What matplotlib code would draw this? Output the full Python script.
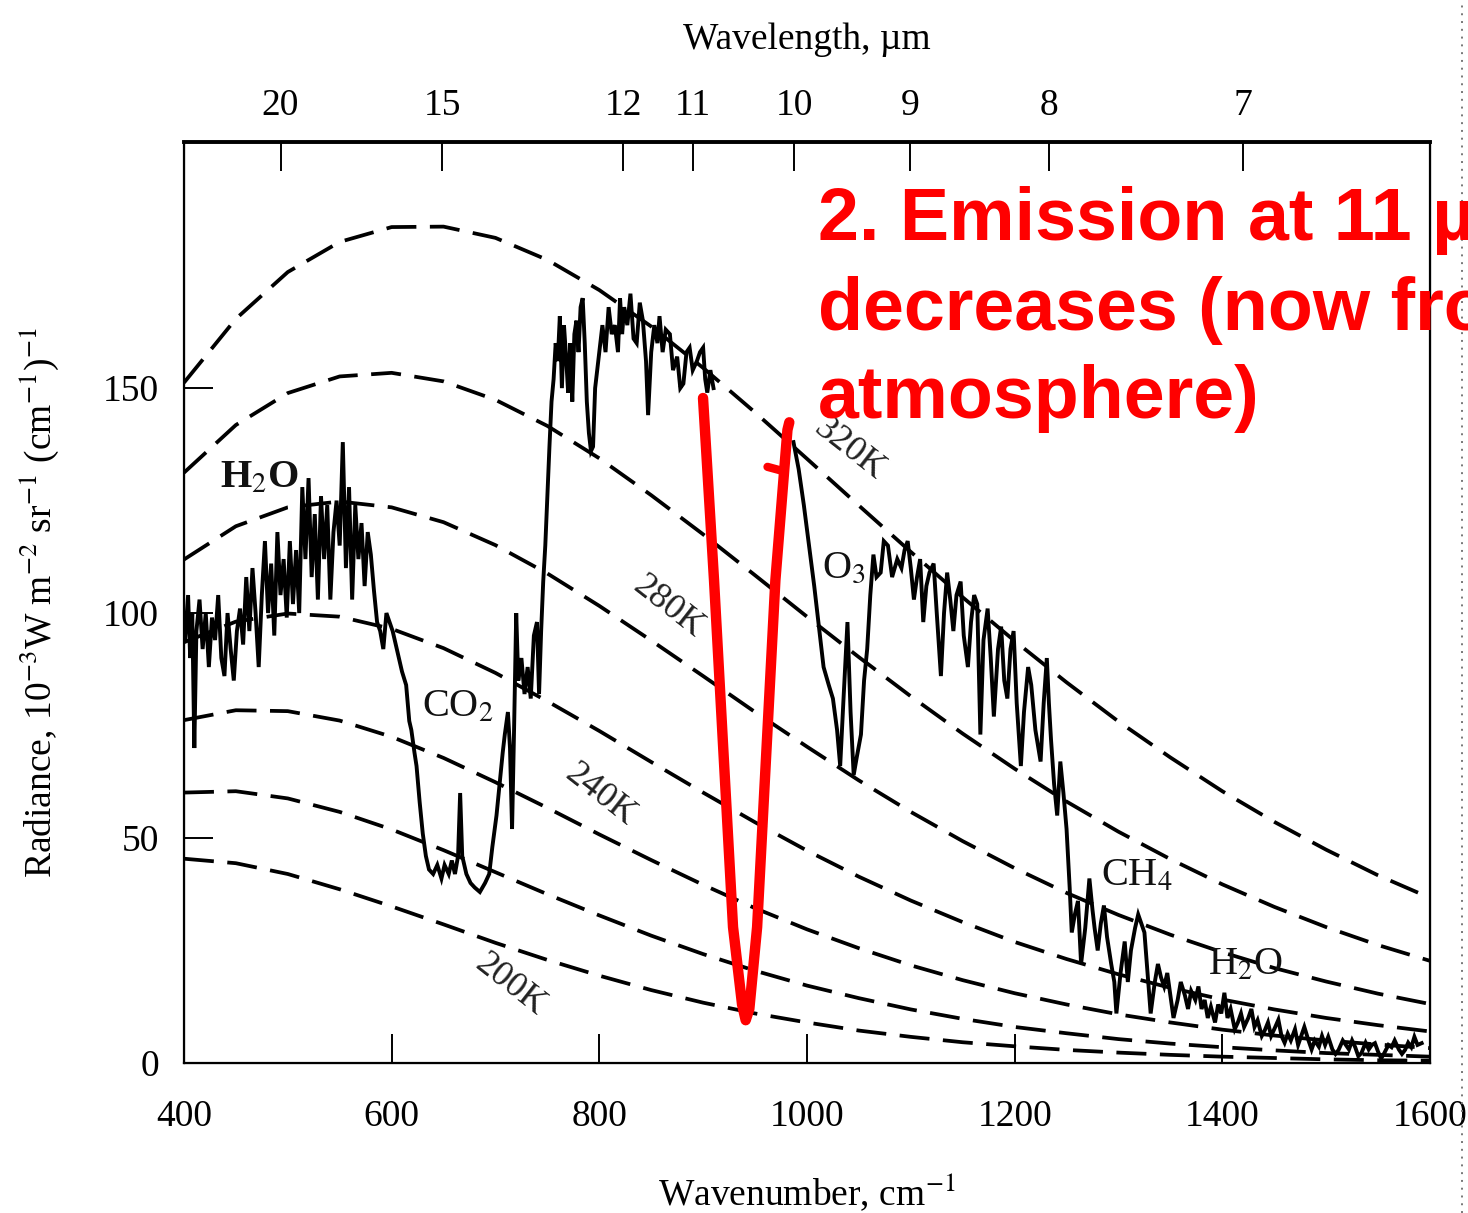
import matplotlib
matplotlib.use("Agg")
import matplotlib.pyplot as plt
from matplotlib.lines import Line2D
import numpy as np

plt.rcParams['font.family'] = ['Liberation Serif', 'DejaVu Serif']
plt.rcParams['mathtext.fontset'] = 'stix'

# blackbody curves (10^-3 W m-2 sr-1 (cm-1)-1)
wn_grid = [400, 450, 500, 550, 600, 650, 700, 750, 800, 850, 900, 950, 1000,
           1050, 1100, 1150, 1200, 1250, 1300, 1350, 1400, 1450, 1500, 1550, 1600]
b320 = [151.2, 165.4, 175.8, 182.5, 185.8, 185.9, 183.4, 178.5, 171.8, 163.7, 154.5, 144.6, 134.3,
        123.9, 113.6, 103.5, 93.8, 84.6, 75.9, 67.9, 60.4, 53.6, 47.4, 41.7, 36.7]
b300 = [131.2, 141.8, 148.9, 152.6, 153.4, 151.5, 147.4, 141.6, 134.4, 126.2, 117.5, 108.4, 99.2,
        90.2, 81.5, 73.2, 65.4, 58.1, 51.4, 45.3, 39.7, 34.7, 30.2, 26.2, 22.7]
b280 = [111.9, 119.3, 123.5, 124.8, 123.5, 120.2, 115.1, 108.8, 101.6, 93.9, 86.0, 78.0, 70.3,
        62.8, 55.8, 49.3, 43.3, 37.8, 32.9, 28.5, 24.6, 21.1, 18.1, 15.4, 13.1]
b260 = [93.5, 98.1, 99.9, 99.2, 96.5, 92.2, 86.7, 80.4, 73.8, 66.9, 60.1, 53.5, 47.2,
        41.4, 36.1, 31.3, 26.9, 23.1, 19.7, 16.7, 14.1, 11.9, 10.0, 8.4, 7.0]
b240 = [76.2, 78.4, 78.2, 76.1, 72.5, 67.8, 62.4, 56.7, 50.8, 45.1, 39.6, 34.4, 29.7,
        25.5, 21.7, 18.4, 15.5, 13.0, 10.8, 9.0, 7.4, 6.1, 5.0, 4.1, 3.3]
b220 = [60.1, 60.4, 58.8, 55.8, 51.9, 47.3, 42.4, 37.5, 32.8, 28.3, 24.2, 20.5, 17.2,
        14.4, 11.9, 9.8, 8.0, 6.6, 5.3, 4.3, 3.5, 2.8, 2.2, 1.8, 1.4]
b200 = [45.4, 44.4, 42.0, 38.6, 34.8, 30.8, 26.7, 22.9, 19.4, 16.2, 13.4, 11.0, 9.0,
        7.2, 5.8, 4.6, 3.7, 2.9, 2.3, 1.8, 1.4, 1.1, 0.8, 0.6, 0.5]
curves = [b320, b300, b280, b260, b240, b220, b200]

# measured spectrum, part below 11 um window
spec1_wn = [401, 404, 406, 408, 410, 412, 415, 418, 421, 424, 427, 430, 433, 436, 439, 442, 445, 448,
            451, 454, 457, 460, 463, 466, 469, 472, 475, 478, 481, 484, 487, 490, 493, 496, 499,
            502, 505, 508, 511, 514, 517, 520, 523, 526, 529, 532, 535, 538, 541, 544, 547, 550,
            553, 556, 559, 562, 565, 568, 571, 574, 577, 580, 583, 586, 589, 592, 595, 598, 601,
            605, 610, 614, 617, 619, 622, 624, 627, 630, 633, 636, 640, 644, 648, 651, 655, 658,
            661, 664, 666, 668, 672, 676, 680, 685, 690, 694, 697, 701, 704, 707, 709, 712, 714,
            716, 718, 720, 722, 725, 728, 731, 734, 737, 740, 742, 744, 746, 748, 750, 752, 754,
            756, 758, 760, 762, 764, 766, 768, 770, 772, 774, 776, 778, 780, 782, 784, 786, 788,
            790, 792, 794, 796, 798, 801, 803, 806, 809, 812, 815, 818, 820, 822, 824, 827, 830,
            833, 836, 839, 842, 845, 847, 850, 853, 856, 858, 861, 864, 868, 871, 875, 878, 881,
            884, 887, 890, 894, 897, 900, 902, 904, 907, 910]
spec1_rad = [94, 104, 90, 100, 70, 96, 103, 92, 100, 88, 99, 94, 104, 90, 86, 100, 92, 85,
             96, 101, 93, 108, 96, 110, 100, 88, 104, 116, 100, 111, 95, 118, 104, 112, 99,
             116, 102, 114, 100, 128, 112, 130, 108, 122, 103, 126, 112, 124, 103, 118, 125, 115,
             138, 110, 128, 103, 124, 112, 120, 106, 118, 113, 105, 98, 96, 92, 100, 98, 96,
             92, 87, 84, 76, 74, 69, 66, 58, 51, 46, 43, 42, 44, 41, 44, 42, 45,
             42, 46, 60, 46, 42, 40, 39, 38, 40, 42, 48, 55, 62, 69, 73, 78, 70,
             52, 75, 100, 85, 90, 82, 88, 81, 95, 98, 82, 96, 107, 115, 126, 137, 147,
             152, 160, 156, 166, 150, 164, 157, 149, 160, 147, 162, 165, 158, 168, 170, 160, 147,
             140, 136, 137, 150, 154, 160, 164, 158, 168, 162, 164, 158, 170, 162, 168, 164, 171,
             161, 160, 169, 165, 156, 144, 158, 164, 160, 166, 158, 163, 162, 154, 157, 150, 151,
             158, 159, 154, 156, 158, 159, 152, 149, 154, 150]

# measured spectrum, part above 10 um
spec2_wn = [987, 992, 997, 1002, 1007, 1012, 1016, 1021, 1025, 1029, 1032, 1035, 1039, 1042, 1045,
            1048, 1052, 1055, 1058, 1061, 1064, 1067, 1071, 1074, 1078, 1082, 1087, 1091, 1094,
            1097, 1100, 1103, 1106, 1109, 1112, 1115, 1118, 1122, 1125, 1129, 1132, 1135, 1138,
            1141, 1144, 1148, 1151, 1155, 1158, 1161, 1164, 1167, 1170, 1174, 1177, 1180, 1184,
            1187, 1190, 1193, 1196, 1199, 1202, 1206, 1209, 1213, 1216, 1220, 1225, 1228, 1231,
            1233, 1235, 1238, 1241, 1244, 1247, 1250, 1253, 1255, 1258, 1261, 1264, 1268, 1272,
            1275, 1277, 1280, 1283, 1286, 1289, 1293, 1296, 1298, 1302, 1306, 1309, 1312, 1316,
            1319, 1322, 1325, 1328, 1331, 1335, 1338, 1341, 1344, 1347, 1350, 1353, 1357, 1360,
            1364, 1367, 1370, 1374, 1377, 1380, 1383, 1386, 1389, 1393, 1396, 1399, 1402, 1405,
            1408, 1412, 1415, 1418, 1421, 1425, 1428, 1431, 1434, 1438, 1441, 1444, 1447, 1451,
            1454, 1457, 1460, 1463, 1466, 1470, 1473, 1476, 1479, 1483, 1486, 1489, 1493, 1496,
            1499, 1502, 1506, 1509, 1512, 1516, 1519, 1522, 1525, 1528, 1531, 1534, 1538, 1541,
            1544, 1547, 1550, 1553, 1556, 1560, 1563, 1566, 1570, 1573, 1576, 1579, 1582, 1585,
            1588, 1592]
spec2_rad = [138, 132, 124, 115, 106, 96, 88, 84, 81, 74, 66, 80, 98, 78, 64,
             68, 73, 85, 92, 104, 113, 108, 109, 116, 115, 108, 112, 110, 114,
             116, 110, 103, 108, 112, 98, 106, 109, 111, 100, 86, 100, 109, 103,
             96, 104, 107, 95, 88, 98, 104, 102, 73, 94, 101, 90, 77, 92,
             97, 85, 81, 92, 96, 80, 66, 78, 88, 84, 74, 67, 80, 90,
             80, 72, 62, 55, 67, 60, 52, 39, 29, 33, 36, 22, 30, 41,
             34, 30, 25, 31, 35, 28, 22, 18, 11, 20, 27, 18, 25, 30,
             33, 31, 29, 20, 11, 18, 22, 19, 17, 20, 15, 10, 14, 18,
             15, 12, 16, 14, 17, 12, 14, 10, 12.5, 9, 13, 11, 15.6, 10,
             12, 7.5, 9, 11, 8, 10, 12, 8, 9.5, 6, 7.3, 9, 6, 8,
             9.6, 6, 4.5, 6.5, 5, 7.5, 4, 6, 8, 5, 3, 5, 3.6, 6,
             4, 5.8, 3, 2, 2.9, 5, 4, 3, 5, 3.5, 1.5, 2.2, 4.5, 3,
             4, 4.4, 2.5, 1, 2.2, 4, 3.5, 5, 3, 2, 2.9, 4.5, 3.5, 5.8,
             4, 4.4]

# hand-drawn red V over the 11 um window
red_wn = [899.9, 910.5, 928.8, 937.5, 941.0, 944.5, 952.0, 969.6, 981.2, 983.0]
red_rad = [147.8, 107.3, 30.2, 13.0, 9.5, 12.0, 30.2, 107.3, 140.7, 142.4]

top_labels = ['20', '15', '12', '11', '10', '9', '8', '7']
top_pos = [493, 649, 823, 890, 988, 1099, 1233, 1420]

fig = plt.figure(figsize=(14.68, 12.13), dpi=100)
ax = fig.add_axes([0.1253, 0.1237, 0.9741 - 0.1253, 0.8829 - 0.1237])

for c in curves:
    ax.plot(wn_grid, c, color='black', lw=2.7, dashes=(8, 3.6))

ax.plot(spec1_wn, spec1_rad, color='black', lw=2.8, solid_joinstyle='miter')
ax.plot(spec2_wn, spec2_rad, color='black', lw=2.8, solid_joinstyle='miter')

ax.plot(red_wn, red_rad, color='#ff0000', lw=7.5, solid_capstyle='round',
        solid_joinstyle='round', zorder=5)
ax.plot([962, 978], [132.5, 131.5], color='#ff0000', lw=6, solid_capstyle='round', zorder=5)

ax.set_xlim(400, 1600)
ax.set_ylim(0, 204.7)
ax.set_xticks([400, 600, 800, 1000, 1200, 1400, 1600])
ax.set_yticks([0, 50, 100, 150])
ax.tick_params(direction='in', length=21, width=1.4, labelsize=27, pad=26)
ax.tick_params(axis='y', pad=18)
for s in ['left', 'right', 'bottom']:
    ax.spines[s].set_linewidth(1.6)
ax.spines['top'].set_linewidth(2.8)
ax.set_xlabel('Wavenumber, cm$^{-1}$', fontsize=27, labelpad=28)
ax.set_ylabel('Radiance, 10$^{-3}$W m$^{-2}$ sr$^{-1}$ (cm$^{-1}$)$^{-1}$', fontsize=27, labelpad=30)

ax2 = ax.twiny()
ax2.set_xlim(ax.get_xlim())
ax2.set_xticks(top_pos)
ax2.set_xticklabels(top_labels)
ax2.tick_params(direction='in', length=21, width=1.4, labelsize=27, pad=14)
ax2.set_xlabel('Wavelength, µm', fontsize=27, labelpad=28)

lab = dict(fontsize=29, ha='center', va='center', color='#111111')
ax.text(473, 130, 'H$_2$O', fontweight='bold', **lab)
ax.text(664, 79, 'CO$_2$', **lab)
ax.text(1036, 110, 'O$_3$', **lab)
ax.text(1318, 41.5, 'CH$_4$', **lab)
ax.text(1422, 21.8, 'H$_2$O', **lab)
tl = dict(fontsize=26, ha='center', va='center', color='#222222', rotation=-38)
ax.text(1040, 136.5, '320K', **tl)
ax.text(866, 101.3, '280K', **tl)
ax.text(801, 59.6, '240K', **tl)
ax.text(714, 17.3, '200K', **tl)

red = dict(fontsize=53, color='#ff0000', fontweight='bold', family='Liberation Sans',
           ha='left', va='baseline', zorder=10)
fig.text(0.557, 1 - 240 / 1213, '2. Emission at 11 µm', **red)
fig.text(0.557, 1 - 330 / 1213, 'decreases (now from', **red)
fig.text(0.557, 1 - 418 / 1213, 'atmosphere)', **red)

fig.add_artist(Line2D([0.9959, 0.9959], [0, 1], transform=fig.transFigure,
                      color='#777777', lw=1.4, linestyle=(0, (1, 3))))

fig.savefig('out.png', dpi=100)
